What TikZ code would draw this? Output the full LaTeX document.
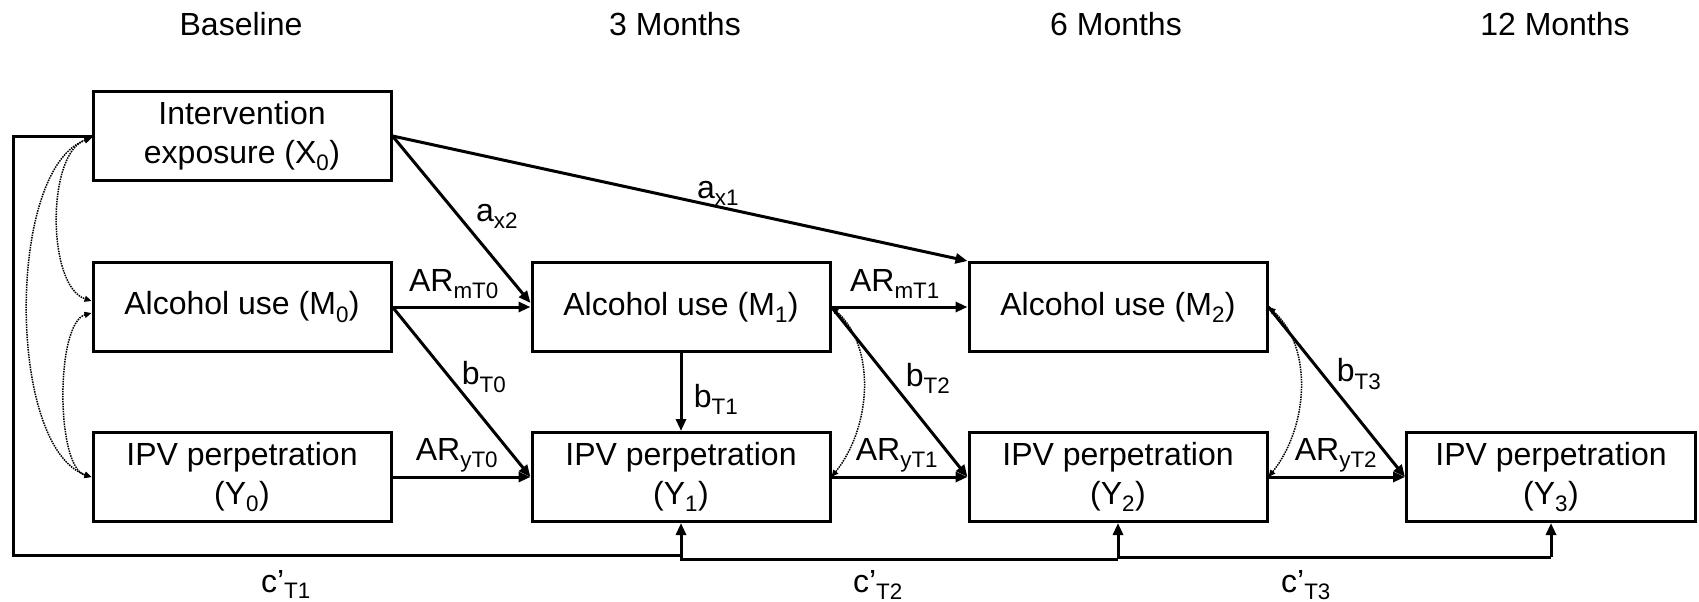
\documentclass[tikz,border=0pt]{standalone}
\usepackage{fontspec}
\setmainfont{Liberation Sans}
\usetikzlibrary{arrows.meta,calc}
\begin{document}
\begin{tikzpicture}[x=1pt,y=-1pt,
  box/.style={draw,line width=3pt,minimum width=298pt,minimum height=89pt,align=center,inner sep=0pt,font=\fontsize{32}{39}\selectfont},
  lbl/.style={font=\fontsize{32}{38}\selectfont,inner sep=0pt},
  arr/.style={line width=3pt,-{Triangle[length=12pt,width=10pt]}},
  ln/.style={line width=3pt},
  cov/.style={line width=1.5pt,densely dotted,{Triangle[length=7pt,width=6pt]}-{Triangle[length=7pt,width=6pt]}}
]
\useasboundingbox[fill=white] (0,0) rectangle (1699,602);
% headers
\node[lbl] (h0) at (241,24) {Baseline};
\node[lbl] (h1) at (675,24) {3 Months};
\node[lbl] (h2) at (1116,24) {6 Months};
\node[lbl] (h3) at (1555,24) {12 Months};
% boxes
\node[box] (X0) at (242,136) {Intervention\\exposure (X\textsubscript{0})};
\node[box] (M0) at (242,307) {Alcohol use (M\textsubscript{0})};
\node[box] (Y0) at (242,477) {IPV perpetration\\(Y\textsubscript{0})};
\node[box] (M1) at (681,307) {Alcohol use (M\textsubscript{1})};
\node[box] (Y1) at (681,477) {IPV perpetration\\(Y\textsubscript{1})};
\node[box] (M2) at (1118,307) {Alcohol use (M\textsubscript{2})};
\node[box] (Y2) at (1118,477) {IPV perpetration\\(Y\textsubscript{2})};
\node[box,minimum width=289pt] (Y3) at (1551,477) {IPV perpetration\\(Y\textsubscript{3})};
% coordinates for bottom paths
\coordinate (tl) at (13,136);
\coordinate (bl) at (13,555);
\coordinate (b1) at (681,555);
\coordinate (b1b) at (681,559);
\coordinate (b2) at (1118,559);
\coordinate (b2b) at (1118,557);
\coordinate (b3) at (1551,557);
% solid paths
\draw[arr] (X0.east) -- (M2.north west);
\draw[arr] (X0.east) -- ($(M1.west)+(0,-4)$);
\draw[arr] (M0.east) -- (M1.west);
\draw[arr] (M0.east) -- (Y1.west);
\draw[arr] (Y0.east) -- (Y1.west);
\draw[arr] (M1.south) -- (Y1.north);
\draw[arr] (M1.east) -- (M2.west);
\draw[arr] (M1.east) -- (Y2.west);
\draw[arr] (Y1.east) -- (Y2.west);
\draw[arr] (M2.east) -- (Y3.west);
\draw[arr] (Y2.east) -- (Y3.west);
% c' paths
\draw[ln] (X0.west) -- (tl) -- (bl) -- (b1);
\draw[arr] (b1) -- (Y1.south);
\draw[ln] (b1) -- (b1b) -- (b2);
\draw[arr] (b2) -- (Y2.south);
\draw[ln] (b2) -- (b2b) -- (b3);
\draw[arr] (b3) -- (Y3.south);
% covariances
\draw[cov] ($(X0.west)+(0,2)$) .. controls +(-45,15) and +(-45,-15) .. ($(M0.west)+(0,-6)$);
\draw[cov] ($(X0.west)+(0,2)$) .. controls +(-85,30) and +(-85,-30) .. (Y0.west);
\draw[cov] ($(M0.west)+(0,6)$) .. controls +(-36,10) and +(-36,-10) .. (Y0.west);
\draw[cov] (M1.east) .. controls +(45,40) and +(40,-50) .. (Y1.east);
\draw[cov] (M2.east) .. controls +(45,40) and +(40,-50) .. (Y2.east);
% labels
\node[lbl] (lax1) at (718,193) {a\textsubscript{x1}};
\node[lbl] (lax2) at (497,216) {a\textsubscript{x2}};
\node[lbl] (lm0) at (454,284) {AR\textsubscript{mT0}};
\node[lbl] (lb0) at (484,377) {b\textsubscript{T0}};
\node[lbl] (ly0) at (457,455) {AR\textsubscript{yT0}};
\node[lbl] (lb1) at (716,399) {b\textsubscript{T1}};
\node[lbl] (lm1) at (895,284) {AR\textsubscript{mT1}};
\node[lbl] (lb2) at (928,378) {b\textsubscript{T2}};
\node[lbl] (ly1) at (897,455) {AR\textsubscript{yT1}};
\node[lbl] (lb3) at (1359,374) {b\textsubscript{T3}};
\node[lbl] (ly2) at (1336,455) {AR\textsubscript{yT2}};
\node[lbl,anchor=base] (lc1) at (286,592) {c’\textsubscript{T1}};
\node[lbl,anchor=base] (lc2) at (878,592) {c’\textsubscript{T2}};
\node[lbl,anchor=base] (lc3) at (1306,592) {c’\textsubscript{T3}};
\end{tikzpicture}
\end{document}
